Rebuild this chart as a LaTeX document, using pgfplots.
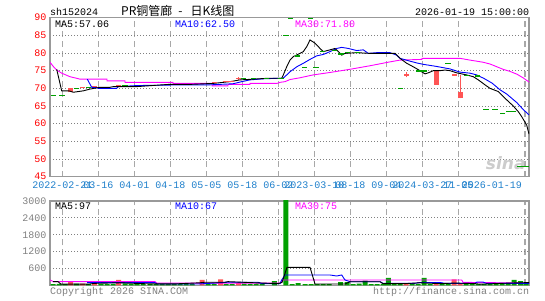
\documentclass[border=0pt]{standalone}
\usepackage{fontspec}
\usepackage{pgfplots}
\pgfplotsset{compat=1.18}
\setmainfont{Liberation Mono}
\newfontfamily\cjk{Noto Sans CJK SC}
\newfontfamily\dvs{DejaVu Sans}
\definecolor{candred}{HTML}{FF5555}
\definecolor{candgreen}{HTML}{00A000}
\definecolor{tickblue}{HTML}{1E7FCB}
\definecolor{gridgray}{HTML}{A8A8A8}
\definecolor{bordergray}{HTML}{999999}
\definecolor{mamag}{HTML}{FF00FF}
\definecolor{mablue}{HTML}{0000FF}
\pgfplotsset{
  sinaaxis/.style={
    scale only axis, width=479pt, xmin=50, xmax=529,
    axis line style={bordergray, line width=1.2pt},
    grid=major, major tick length=0pt,
    major x grid style={gridgray, line width=1.1pt, dash pattern=on 6pt off 4pt},
    major y grid style={gray, line width=0.8pt, dash pattern=on 1pt off 2pt},
    xtick={62.3,98.3,134.3,170.3,206.3,242.3,278.3,314.3,350.3,386.3,422.3,458.3,525},
    tick label style={font=\fontsize{10}{12}\selectfont},
    /pgf/number format/assume math mode=true,
    /pgf/number format/1000 sep={},
  },
  green flat/.style={only marks, mark=-, mark size=2.7pt, candgreen, mark options={line width=1.3pt}},
  red flat/.style={only marks, mark=-, mark size=2.7pt, candred, mark options={line width=1.3pt}},
}
\begin{document}
\begin{tikzpicture}[x=1pt,y=1pt]
\useasboundingbox (0,0) rectangle (545,300);
% ---------- price axis ----------
\begin{axis}[sinaaxis, at={(50pt,123.3pt)}, anchor=south west, height=159pt,
  ymin=45, ymax=90, ytick={45,50,...,90},
  yticklabel style={text=red},
  xticklabel style={text=tickblue, yshift=-1.5pt},
  xticklabels={2022-02-21,03-16,04-01,04-18,05-05,05-18,06-02,2023-03-10,08-18,09-04,2024-03-27,11-05,\llap{2026-01-19\hspace{3pt}}},
]
% green flat candles
\addplot[green flat] coordinates {(53.5,68.0) (62,68.0) (76.7,70.0) (88.5,70.3) (124.8,70.8)
 (243.5,72.85) (253.5,72.85) (266.5,72.7) (280.8,72.85) (285.8,84.9) (290.5,89.8) (310.5,89.8)
 (297.5,79.2) (304.2,76.0) (315.8,76.0) (322.5,80.4) (334.2,80.7) (340.8,79.7) (347.5,80.1) (357.5,80.1)
 (400.5,70.0) (419,74.9) (424,74.9) (448,77.1) (466.7,73.6) (477.5,73.5)
 (486,64.1) (495,64.1) (502.5,62.9) (508.5,63.4) (513.7,63.4) (520,47.8) (526,47.8)};
% red flat candles
\addplot[red flat] coordinates {(82.5,70.3) (118.5,70.9) (214.5,71.6) (225.5,71.9) (231,71.9) (238.4,72.8) (406.3,73.8) (454.2,73.8)};
% red wicks
\addplot[candred, line width=1pt, unbounded coords=jump] coordinates {(238.4,72.3) (238.4,73.1) (238.4,nan) (406.3,73.1) (406.3,74.5) (406.3,nan) (460.2,67.2) (460.2,73.8)};
% red bodies
\addplot[candred, line width=4.6pt, unbounded coords=jump] coordinates {(70.5,68.9) (70.5,70.1) (70.5,nan) (94.5,70.2) (94.5,70.8) (94.5,nan) (436.5,71.0) (436.5,75.3) (436.5,nan) (460.2,67.2) (460.2,69.1)};
% MA30
\addplot[mamag, line width=0.9pt] coordinates {(50,77.4) (53,76.3) (56.7,75.2) (61.7,74.3) (70,73.3) (76.7,72.85) (80,72.6) (107,72.6) (107,72.1) (125,72.1) (125,71.7) (173,71.7) (173,71.4) (212,71.4) (212,70.7) (228,70.7) (228,71.15) (250,71.15) (250,71.4) (277,71.4) (280,71.7) (285,71.9) (290,72.5) (300,73.0) (313,73.8) (330,74.5) (350,75.4) (370,76.4) (390,77.5) (400,78.0) (422,78.2) (422,78.5) (460,78.5) (470,78.0) (483,77.4) (490,76.9) (503,75.4) (510,74.8) (517,74.0) (523,73.0) (529,71.8)};
% MA10
\addplot[mablue, line width=0.9pt] coordinates {(87.3,72.6) (91.7,70.3) (96.7,70.2) (98.3,70.0) (116.7,70.0) (118.3,70.5) (137,70.8) (185,71.0) (210,71.0) (233,71.3) (241.7,71.9) (250,72.4) (263.3,72.7) (276.7,72.85) (283,72.85) (286.7,73.8) (290,74.7) (296.7,76.1) (303.3,77.1) (310,78.2) (316.7,79.2) (323.3,79.6) (330,80.4) (336.7,81.3) (341.7,81.6) (348.3,81.3) (356.7,80.7) (363.3,80.9) (368.3,79.9) (376.7,80.1) (390,80.1) (396.7,79.4) (400,78.5) (410,77.7) (416.7,77.2) (423.3,76.8) (436.7,76.2) (450,75.5) (460,74.6) (470,74.3) (476.7,73.8) (484,72.8) (492,71.5) (500,69.6) (506.7,68.4) (516.7,66.0) (523.3,64.0) (529,62.5)};
% MA5
\addplot[black, line width=0.9pt] coordinates {(56.7,75.4) (61.7,69.3) (69,69.3) (73.3,68.9) (83.3,69.3) (90,69.8) (100,70.3) (110,70.3) (113.3,70.5) (137,70.5) (170,71.15) (192,71.15) (213,71.4) (230,71.9) (240,72.4) (253,72.6) (267,72.85) (281.7,72.85) (283.3,73.8) (286.7,76.1) (290,78.0) (293.3,79.0) (300,79.9) (303.3,80.4) (306.7,81.8) (310,83.7) (315,82.8) (320,81.3) (323.3,80.4) (330,80.9) (335,81.3) (338.3,80.4) (341.7,79.4) (345,79.9) (356.7,80.1) (370,79.9) (395,79.9) (398.3,79.0) (400,78.5) (406.7,77.1) (413.3,76.1) (420,75.0) (425,74.1) (428.3,74.4) (433.3,75.0) (440,75.0) (445,75.2) (450,75.0) (456.7,74.4) (466.7,73.8) (473.3,73.3) (478.3,72.4) (485,71.0) (490,70.0) (498.3,69.1) (505,67.2) (513.3,65.0) (518.3,63.4) (521.7,62.0) (526.7,59.6) (529,57.06)};
\node[text=gray!40, font=\dvs\bfseries\itshape\fontsize{17}{17}\selectfont, anchor=south east] at (axis cs:529,46) {sina};
\end{axis}
% ---------- volume axis ----------
\begin{axis}[sinaaxis, at={(50pt,14.7pt)}, anchor=south west, height=84.3pt,
  ymin=0, ymax=3000, ytick={600,1200,1800,2400,3000},
  yticklabel style={text=gray},
  xticklabels={},
  scaled y ticks=false,
]
\addplot[ybar, bar width=5pt, bar shift=0pt, fill=candgreen, draw=none] coordinates {
 (53,45) (59,50) (65,45) (76.7,60) (88.5,45) (101,40) (107,45) (113,40) (125,70) (131,40) (137,45) (143,40) (150,45) (156,40) (162,45) (168,40) (174,45) (180,40) (186,45) (192,40) (208,45) (214,50) (226,45) (232,45) (244,60) (250,45) (256,50) (262,45) (274.3,150) (285.8,3200) (292,40) (298,80) (305,45) (311,45) (317,45) (323,45) (329,40) (340.5,117) (347,117) (353,45) (359,60) (365,165) (371,45) (377,45) (383,45) (388.3,260) (394,45) (400,50) (412,45) (418,45) (424.2,260) (430,45) (442,45) (448,50) (466,45) (472,45) (478,45) (484,45) (490,50) (496,45) (502,45) (508,50) (514.2,190) (520.5,150) (526,45)};
\addplot[ybar, bar width=5pt, bar shift=0pt, fill=candred, draw=none] coordinates {
 (70.5,150) (82.5,60) (94.5,150) (118.5,190) (202,190) (220.5,210) (238.4,80) (406,50) (436,50) (454.2,213) (460.2,60)};
% MA30 vol
\addplot[mamag, line width=0.9pt] coordinates {(50,190) (53.3,130) (155,130) (157,75) (280,75) (283,190) (461.7,190) (463,105) (529,80)};
% MA10 vol
\addplot[mablue, line width=0.9pt] coordinates {(87,93) (155,93) (157,46) (198,46) (227,107) (258,107) (262,60) (280,60) (281.7,190) (285,367) (330,367) (336.7,331) (341.7,367) (345,190) (350,128) (380,128) (383,71) (415,71) (420,100) (440,100) (445,70) (475,70) (477,117) (483,117) (486,70) (529,67)};
% MA5 vol
\addplot[black, line width=0.9pt] coordinates {(53,130) (58,130) (61,40) (88,40) (95,70) (120,90) (150,50) (175,50) (200,90) (205,110) (225,110) (228,130) (255,90) (278,60) (282,100) (287,640) (310,640) (315,46) (345,46) (350,128) (380,128) (383,60) (405,60) (420,90) (440,60) (455,80) (475,60) (480,40) (510,80) (529,97)};
\end{axis}
% ---------- texts ----------
\node[anchor=west, inner sep=0pt, font=\fontsize{10}{12}\selectfont] at (50,288) {sh152024};
\node[anchor=west, inner sep=0pt, font=\cjk\fontsize{12}{14}\selectfont] at (121,289) {PR铜管廊\hspace{6pt}-\hspace{8pt}日K线图};
\node[anchor=east, inner sep=0pt, font=\fontsize{10}{12}\selectfont] at (529.3,288) {2026-01-19 15:00:00};
\node[anchor=west, inner sep=0pt, font=\fontsize{10}{12}\selectfont] at (55,276) {MA5:57.06};
\node[anchor=west, inner sep=0pt, font=\fontsize{10}{12}\selectfont, text=mablue] at (175,276) {MA10:62.50};
\node[anchor=west, inner sep=0pt, font=\fontsize{10}{12}\selectfont, text=mamag] at (295,276) {MA30:71.80};
\node[anchor=west, inner sep=0pt, font=\fontsize{10}{12}\selectfont] at (55,94) {MA5:97};
\node[anchor=west, inner sep=0pt, font=\fontsize{10}{12}\selectfont, text=mablue] at (175,94) {MA10:67};
\node[anchor=west, inner sep=0pt, font=\fontsize{10}{12}\selectfont, text=mamag] at (295,94) {MA30:75};
\node[anchor=west, inner sep=0pt, font=\fontsize{10}{12}\selectfont, text=gray] at (50,8) {Copyright 2026 SINA.COM};
\node[anchor=east, inner sep=0pt, font=\fontsize{10}{12}\selectfont, text=gray] at (529.3,8) {http://finance.sina.com.cn};
\end{tikzpicture}
\end{document}
